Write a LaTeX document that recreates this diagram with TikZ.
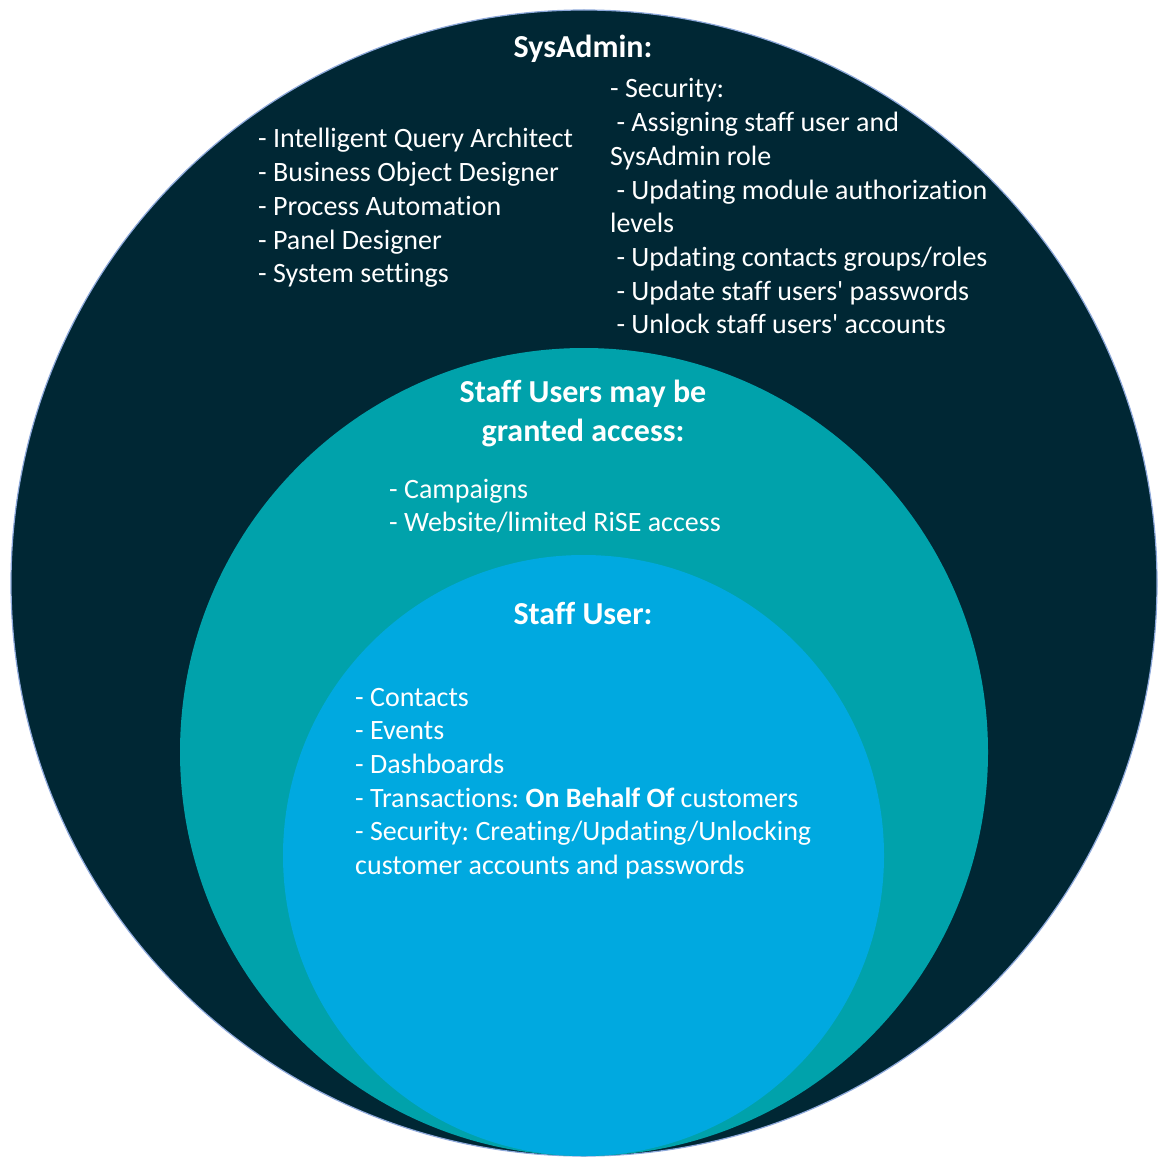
\documentclass[tikz,border=0pt]{standalone}
\usepackage{fontspec}
\setmainfont{Carlito}[Ligatures=NoCommon]
\frenchspacing
\definecolor{sysnavy}{HTML}{002734}
\definecolor{grantteal}{HTML}{00A2AB}
\definecolor{staffblue}{HTML}{00A9E0}
\definecolor{rimblue}{HTML}{8EA9DB}
\begin{document}
\begin{tikzpicture}[x=1pt, y=-1pt,
    head/.style={text=white, font=\fontsize{32}{39}\selectfont\bfseries, anchor=base, inner sep=0pt},
    item/.style={text=white, font=\fontsize{28}{34}\selectfont, anchor=base west, inner sep=0pt}]
    \useasboundingbox (0,0) rectangle (1166,1166);
    \fill[white] (0,0) rectangle (1166,1166);

    % nested circles
    \node[circle, fill=sysnavy, draw=rimblue, line width=1.2pt, minimum size=1146pt, inner sep=0pt] (sysadmin) at (584,583) {};
    \node[circle, fill=grantteal, minimum size=808pt, inner sep=0pt] (granted) at (584,752) {};
    \node[circle, fill=staffblue, minimum size=601pt, inner sep=0pt] (staff) at (583.5,855.5) {};

    % SysAdmin
    \node[head] (sysadminhead) at (583,58) {SysAdmin:};
    \node[item] (iqa) at (258,148) {- Intelligent Query Architect};
    \node[item] (bod) at (258,181.7) {- Business Object Designer};
    \node[item] (pa) at (258,215.4) {- Process Automation};
    \node[item] (pd) at (258,249.1) {- Panel Designer};
    \node[item] (sys) at (258,282.8) {- System settings};

    \node[item] (sec) at (610,98) {- Security:};
    \node[item] (assign) at (610,131.7) {\ - Assigning staff user and};
    \node[item] (assign2) at (610,165.4) {SysAdmin role};
    \node[item] (modauth) at (610,199.1) {\ - Updating module authorization};
    \node[item] (modauth2) at (610,232.8) {levels};
    \node[item] (groups) at (610,266.5) {\ - Updating contacts groups/roles};
    \node[item] (pwd) at (610,300.2) {\ - Update staff users\textquotesingle\ passwords};
    \node[item] (unlock) at (610,333.9) {\ - Unlock staff users\textquotesingle\ accounts};

    % Staff Users may be granted access
    \node[head] (grantedhead) at (583,402.5) {Staff Users may be};
    \node[head] (grantedhead2) at (583,441.5) {granted access:};
    \node[item] (camp) at (389,498) {- Campaigns};
    \node[item] (web) at (389,531.7) {- Website/limited RiSE access};

    % Staff User
    \node[head] (staffhead) at (583,624) {Staff User:};
    \node[item] (contacts) at (355,706) {- Contacts};
    \node[item] (events) at (355,739.7) {- Events};
    \node[item] (dash) at (355,773.4) {- Dashboards};
    \node[item] (trans) at (355,807.1) {- Transactions: \textbf{On Behalf Of} customers};
    \node[item] (custsec) at (355,840.8) {- Security: Creating/Updating/Unlocking};
    \node[item] (custsec2) at (355,874.5) {customer accounts and passwords};
\end{tikzpicture}
\end{document}
